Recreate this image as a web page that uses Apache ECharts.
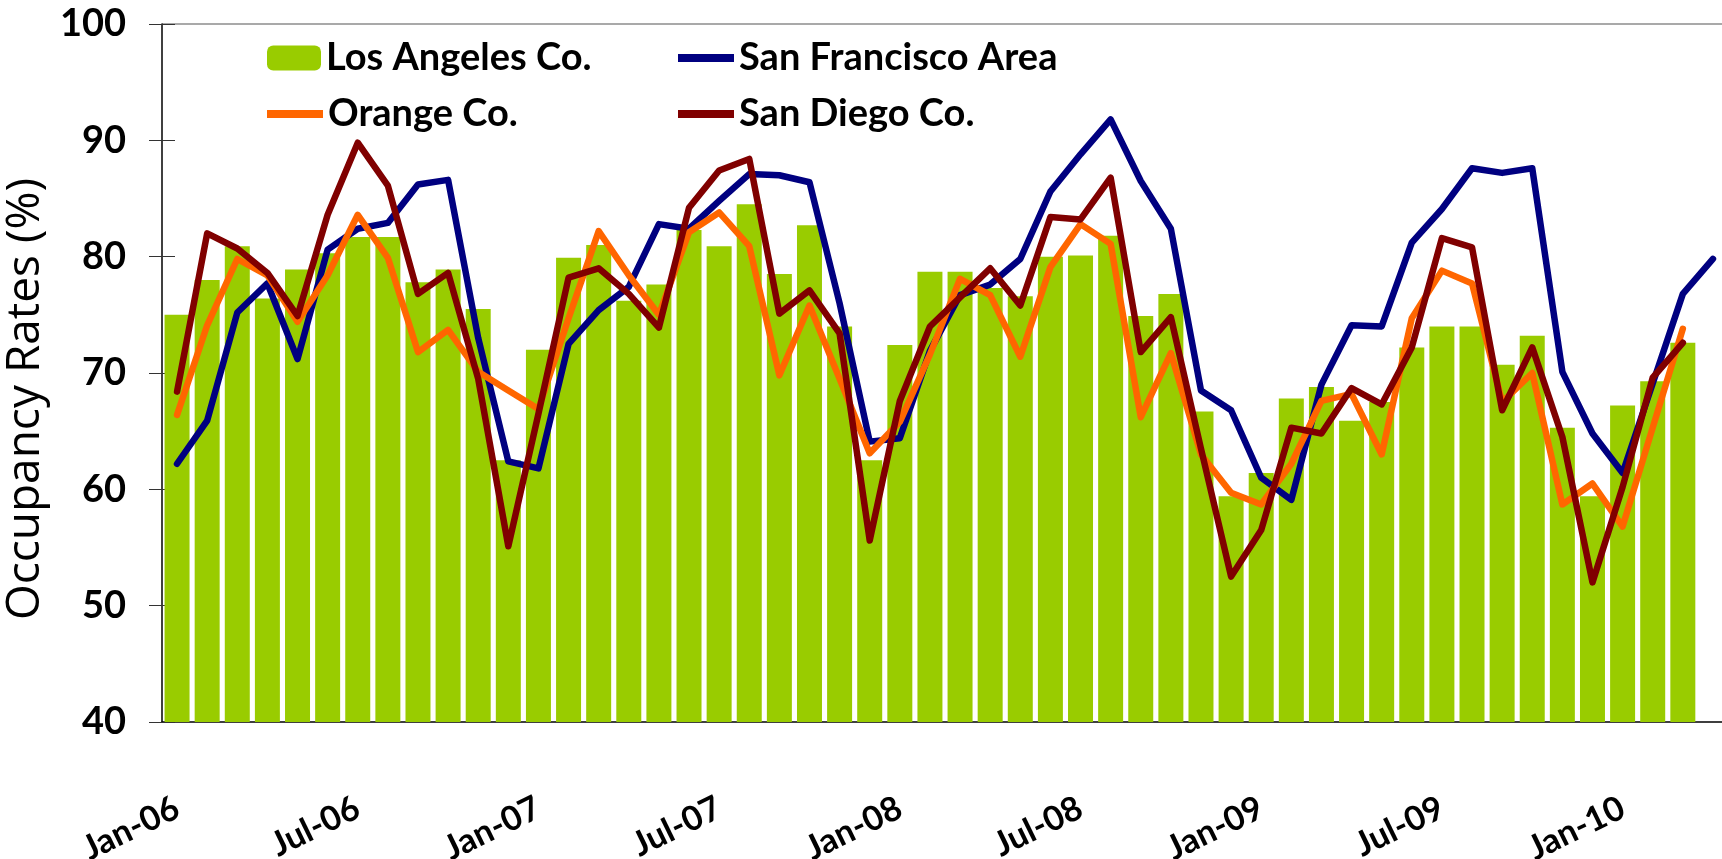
<!DOCTYPE html>
<html>
<head>
<meta charset="utf-8">
<script src="https://cdn.jsdelivr.net/npm/echarts@6/dist/echarts.min.js"></script>
<style>
  html, body { margin: 0; padding: 0; background: #fff; }
  #chart { width: 1722px; height: 859px; }
</style>
</head>
<body>
<div id="chart"></div>
<script>
// month labels Jan-06 .. Apr-10
const monthNames = ['Jan', 'Feb', 'Mar', 'Apr', 'May', 'Jun', 'Jul', 'Aug', 'Sep', 'Oct', 'Nov', 'Dec']
const years = ['06', '07', '08', '09', '10']
const categories = []
years.forEach(y => {
  monthNames.forEach(m => {
    if (categories.length < 52) categories.push(m + '-' + y)
  })
})

const losAngeles = [
  75.0, 78.0, 80.9, 76.4, 78.9, 80.3, 81.7, 81.7, 77.8, 78.9, 75.5, 62.5,
  72.0, 79.9, 81.0, 76.2, 77.6, 82.3, 80.9, 84.5, 78.5, 82.7, 74.0, 62.5,
  72.4, 78.7, 78.7, 77.3, 76.6, 80.0, 80.1, 81.8, 74.9, 76.8, 66.7, 59.4,
  61.4, 67.8, 68.8, 65.9, 67.5, 72.2, 74.0, 74.0, 70.7, 73.2, 65.3, 59.4,
  67.2, 69.3, 72.6
]
const sanFrancisco = [
  62.2, 65.9, 75.2, 77.7, 71.2, 80.6, 82.4, 82.9, 86.2, 86.6, 73.0, 62.4,
  61.8, 72.5, 75.4, 77.4, 82.8, 82.4, 84.8, 87.1, 87.0, 86.4, 76.0, 64.1,
  64.4, 71.9, 76.7, 77.6, 79.8, 85.6, 88.8, 91.8, 86.5, 82.4, 68.5, 66.8,
  61.0, 59.1, 69.0, 74.1, 74.0, 81.2, 84.1, 87.6, 87.2, 87.6, 70.1, 64.8,
  61.4, 69.1, 76.8, 79.8
]
const orange = [
  66.4, 74.1, 79.8, 78.4, 74.4, 78.4, 83.6, 79.9, 71.8, 73.7, 70.1, 68.5,
  66.9, 74.7, 82.2, 78.4, 75.0, 82.1, 83.8, 80.9, 69.8, 75.8, 69.5, 63.1,
  65.8, 71.6, 78.1, 76.7, 71.4, 79.1, 82.8, 81.1, 66.2, 71.7, 63.0, 59.7,
  58.7, 62.2, 67.6, 68.2, 63.0, 74.7, 78.8, 77.7, 67.5, 70.0, 58.7, 60.5,
  56.8, 65.3, 73.8
]
const sanDiego = [
  68.4, 82.0, 80.7, 78.6, 74.9, 83.6, 89.8, 86.1, 76.8, 78.6, 69.5, 55.1,
  66.5, 78.2, 79.0, 76.8, 73.9, 84.2, 87.4, 88.4, 75.1, 77.1, 73.4, 55.6,
  67.6, 74.0, 76.5, 79.0, 75.8, 83.4, 83.2, 86.8, 71.8, 74.8, 63.5, 52.5,
  56.5, 65.3, 64.8, 68.7, 67.3, 72.2, 81.6, 80.8, 66.8, 72.2, 64.5, 52.0,
  60.2, 69.6, 72.6
]

const font = 'Lato'
const chart = echarts.init(document.getElementById('chart'))

function lineSeries(name, data, color) {
  return {
    name: name,
    type: 'line',
    data: data,
    symbol: 'none',
    showSymbol: false,
    itemStyle: { color: color },
    lineStyle: { color: color, width: 6.5, cap: 'round', join: 'round' },
    z: 3
  }
}

const legendText = { color: '#000', fontFamily: font, fontWeight: 'bold', fontSize: 38 }

chart.setOption({
  animation: false,
  backgroundColor: '#fff',
  grid: {
    left: 162,
    right: -6,
    top: 24,
    bottom: 137,
    outerBoundsMode: 'none'
  },
  legend: [
    {
      data: ['Los Angeles Co.'],
      left: 262,
      top: 34,
      itemWidth: 54,
      itemHeight: 25,
      textStyle: legendText
    },
    {
      data: ['Orange Co.'],
      left: 262,
      top: 90,
      icon: 'rect',
      itemWidth: 56,
      itemHeight: 8,
      textStyle: legendText
    },
    {
      data: ['San Francisco Area', 'San Diego Co.'],
      orient: 'vertical',
      left: 673,
      top: 34,
      icon: 'rect',
      itemWidth: 56,
      itemHeight: 8,
      itemGap: 18,
      textStyle: legendText
    }
  ],
  xAxis: {
    type: 'category',
    data: categories,
    boundaryGap: true,
    axisLine: { lineStyle: { color: '#000', width: 1.5 } },
    axisTick: { show: false },
    axisLabel: {
      interval: 5,
      rotate: 26,
      margin: 84,
      color: '#000',
      fontFamily: font,
      fontWeight: 'bold',
      fontSize: 34
    }
  },
  yAxis: [
    {
      type: 'value',
      min: 40,
      max: 100,
      interval: 10,
      name: 'Occupancy Rates (%)',
      nameLocation: 'middle',
      nameGap: 97,
      nameTextStyle: {
        color: '#000',
        fontFamily: 'Open Sans',
        fontSize: 46,
        padding: [0, 52, 0, 0]
      },
      axisLine: { show: true, lineStyle: { color: '#000', width: 1.5 } },
      axisTick: { show: true, length: 13, lineStyle: { color: '#333' } },
      axisLabel: {
        margin: 36,
        color: '#000',
        fontFamily: font,
        fontWeight: 'bold',
        fontSize: 38
      },
      splitLine: {
        show: true,
        lineStyle: {
          color: ['rgba(0,0,0,0)', 'rgba(0,0,0,0)', 'rgba(0,0,0,0)', 'rgba(0,0,0,0)',
            'rgba(0,0,0,0)', 'rgba(0,0,0,0)', '#8c8c8c'],
          width: 1.5
        }
      }
    },
    {
      // inner half of the crossing ticks
      type: 'value',
      min: 40,
      max: 100,
      interval: 10,
      position: 'left',
      axisLine: { show: false },
      axisTick: { show: true, inside: true, length: 13, lineStyle: { color: '#333' } },
      axisLabel: { show: false },
      splitLine: { show: false }
    }
  ],
  series: [
    {
      name: 'Los Angeles Co.',
      type: 'bar',
      data: losAngeles,
      barCategoryGap: '17%',
      itemStyle: { color: '#99cc00' },
      z: 2
    },
    lineSeries('San Francisco Area', sanFrancisco, '#000080'),
    lineSeries('Orange Co.', orange, '#ff6600'),
    lineSeries('San Diego Co.', sanDiego, '#800000')
  ]
})
</script>
</body>
</html>
